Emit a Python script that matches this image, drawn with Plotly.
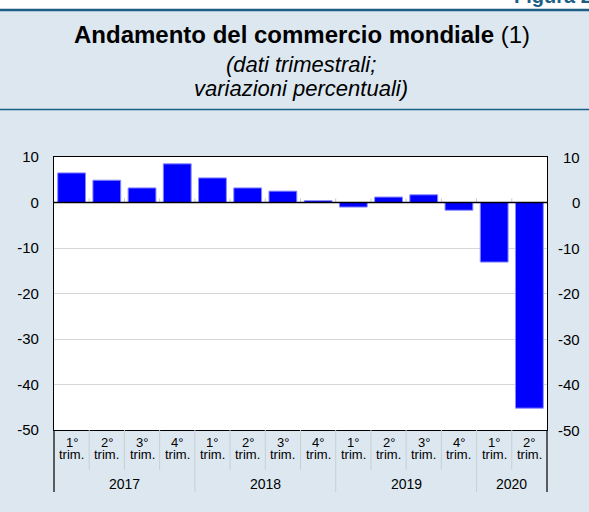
import plotly.graph_objects as go

quarters = ["1°", "2°", "3°", "4°"] * 3 + ["1°", "2°"]
years = ["2017", "2018", "2019", "2020"]
year_counts = [4, 4, 4, 2]
values = [6.5, 4.9, 3.2, 8.5, 5.4, 3.2, 2.5, 0.4, -1.0, 1.2, 1.7, -1.7, -13.1, -45.2]
y_ticks = [10, 0, -10, -20, -30, -40, -50]

W, H = 589, 512
ML, MR, MT, MB = 54, 42, 157, 82
PH = H - MT - MB
PW = W - ML - MR

def py(p):  # pixel y -> paper y
    return (H - MB - p) / PH

def px(p):
    return (p - ML) / PW

FONT = "Liberation Sans, Arial, Helvetica, sans-serif"
BG = "#dce7f0"
LINE_BLUE = "#1b5e86"
SEP = "#c6d0d8"

n = len(values)
x = list(range(n))

fig = go.Figure()
fig.add_trace(go.Bar(x=x, y=values, marker=dict(color="#0000ff", line=dict(color="#8a8aff", width=1)),
                     showlegend=False, hoverinfo="skip"))
fig.add_trace(go.Scatter(x=[0], y=[0], mode="none", yaxis="y2", showlegend=False, hoverinfo="skip"))

shapes = []
# header band (white strip above the top rule)
shapes.append(dict(type="rect", xref="paper", yref="paper", x0=px(-2), x1=px(W + 2), y0=py(10), y1=py(-2),
                   fillcolor="white", line=dict(width=0), layer="above"))
shapes.append(dict(type="line", xref="paper", yref="paper", x0=px(-2), x1=px(W + 2), y0=py(10), y1=py(10),
                   line=dict(color=LINE_BLUE, width=2.5), layer="above"))
shapes.append(dict(type="line", xref="paper", yref="paper", x0=px(-2), x1=px(W + 2), y0=py(109.5), y1=py(109.5),
                   line=dict(color=LINE_BLUE, width=1.5)))

# separators in category label area
year_bounds = []
acc = 0
for c in year_counts[:-1]:
    acc += c
    year_bounds.append(acc - 0.5)
for i in range(n - 1):
    b = i + 0.5
    y1 = py(492) if b in year_bounds else py(470)
    shapes.append(dict(type="line", xref="x", yref="paper", x0=b, x1=b, y0=0, y1=y1,
                       line=dict(color=SEP, width=1)))
    # small ticks at zero line
    shapes.append(dict(type="line", xref="x", yref="y", x0=b, x1=b, y0=0, y1=0.9,
                       line=dict(color="#c8c8c8", width=1), layer="below"))
# outer border extensions
for xp in (0, 1):
    shapes.append(dict(type="line", xref="paper", yref="paper", x0=xp, x1=xp, y0=0, y1=py(492),
                       line=dict(color="black", width=1.2)))
# zero line
shapes.append(dict(type="line", xref="paper", yref="y", x0=0, x1=1, y0=0, y1=0,
                   line=dict(color="black", width=1.5)))

ann = []
ann.append(dict(text="<b>Andamento del commercio mondiale</b> (1)", x=px(302), y=py(34), xref="paper", yref="paper",
                showarrow=False, xanchor="center", yanchor="middle", font=dict(size=24, color="black", family=FONT)))
ann.append(dict(text="<i>(dati trimestrali;</i>", x=px(301), y=py(64), xref="paper", yref="paper",
                showarrow=False, xanchor="center", yanchor="middle", font=dict(size=22, color="black", family=FONT)))
ann.append(dict(text="<i>variazioni percentuali)</i>", x=px(301), y=py(88), xref="paper", yref="paper",
                showarrow=False, xanchor="center", yanchor="middle", font=dict(size=22, color="black", family=FONT)))
ann.append(dict(text="<b>Figura 2</b>", x=px(594), y=py(9), xref="paper", yref="paper",
                showarrow=False, xanchor="right", yanchor="bottom", font=dict(size=20, color=LINE_BLUE, family=FONT)))

for i, q in enumerate(quarters):
    ann.append(dict(text=q, x=i, y=py(441.5), xref="x", yref="paper", showarrow=False, height=12,
                    xanchor="center", yanchor="middle", font=dict(size=13, color="black", family=FONT)))
    ann.append(dict(text="trim.", x=i, y=py(454), xref="x", yref="paper", showarrow=False, height=12,
                    xanchor="center", yanchor="middle", font=dict(size=13, color="black", family=FONT)))
start = 0
for yname, c in zip(years, year_counts):
    ann.append(dict(text=yname, x=start + (c - 1) / 2, y=py(484), xref="x", yref="paper", showarrow=False,
                    xanchor="center", yanchor="middle", font=dict(size=14, color="black", family=FONT)))
    start += c

for t in y_ticks:
    ann.append(dict(text=str(t), x=px(582), y=t, xref="paper", yref="y", showarrow=False,
                    xanchor="right", yanchor="middle", font=dict(size=15, color="black", family=FONT)))

fig.update_layout(
    width=W, height=H,
    margin=dict(l=ML, r=MR, t=MT, b=MB, pad=0),
    paper_bgcolor=BG, plot_bgcolor="white",
    bargap=0.21,
    font=dict(family=FONT, size=15, color="black"),
    xaxis=dict(range=[-0.5, n - 0.5], showticklabels=False, showgrid=False, zeroline=False,
               showline=True, mirror=True, linecolor="black", linewidth=1.2, ticks="", fixedrange=True),
    yaxis=dict(range=[-50, 10], tickvals=y_ticks, ticktext=[str(t) for t in y_ticks],
               showgrid=True, gridcolor="#d6d6d6", gridwidth=1, zeroline=False,
               showline=True, mirror=True, linecolor="black", linewidth=1.2, ticks="",
               ticklabelstandoff=11, tickfont=dict(size=15)),
    yaxis2=dict(range=[-50, 10], overlaying="y", side="right", showticklabels=False, showgrid=False,
                zeroline=False, showline=False, ticks=""),
    shapes=shapes, annotations=ann,
)

fig.write_html("out.html", config={"displayModeBar": False},
               post_script="document.body.style.margin='0';document.body.style.padding='0';")
